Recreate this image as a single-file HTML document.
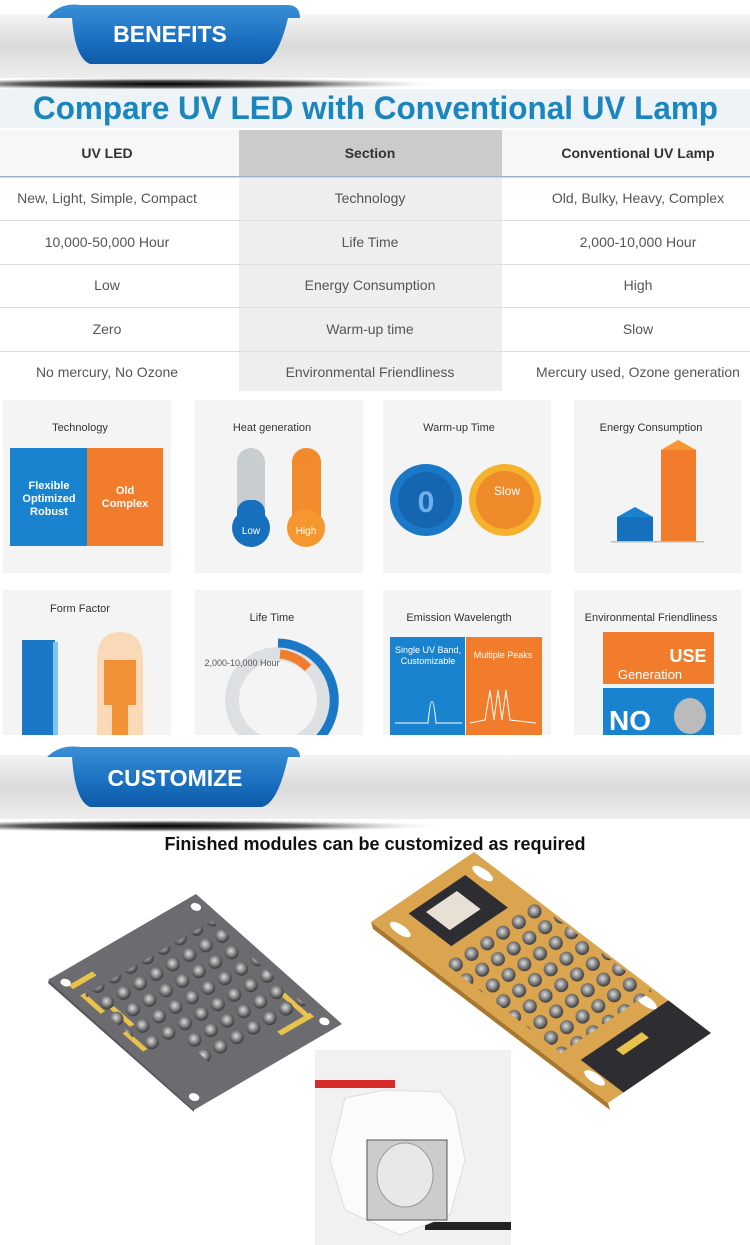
<!DOCTYPE html>
<html><head><meta charset="utf-8"><style>
body{margin:0;width:750px;height:1245px;overflow:hidden;background:#fff;font-family:"Liberation Sans",sans-serif}
svg{display:block}
</style></head><body>
<svg width="750" height="1245" viewBox="0 0 750 1245" xmlns="http://www.w3.org/2000/svg" font-family="Liberation Sans, sans-serif">
<defs>
<linearGradient id="band" x1="0" y1="0" x2="0" y2="1"><stop offset="0" stop-color="#f4f4f4"/><stop offset="0.5" stop-color="#dadada"/><stop offset="1" stop-color="#eeeeee"/></linearGradient>
<linearGradient id="rib" x1="0" y1="0" x2="0" y2="1"><stop offset="0" stop-color="#3a8fd8"/><stop offset="0.6" stop-color="#1a6fc0"/><stop offset="1" stop-color="#0d5aa8"/></linearGradient>
<radialGradient id="shad" cx="0.45" cy="0.5" r="0.55"><stop offset="0" stop-color="#000"/><stop offset="0.5" stop-color="#555"/><stop offset="1" stop-color="#fff" stop-opacity="0"/></radialGradient>
<radialGradient id="hole" cx="0.5" cy="0.4" r="0.6"><stop offset="0" stop-color="#ddd"/><stop offset="0.6" stop-color="#777"/><stop offset="1" stop-color="#333"/></radialGradient>
<pattern id="gh" width="19" height="19" patternUnits="userSpaceOnUse" patternTransform="rotate(-30)"><circle cx="9.5" cy="9.5" r="7" fill="url(#hole)"/></pattern>
<pattern id="oh" width="19" height="19" patternUnits="userSpaceOnUse" patternTransform="rotate(-34)"><circle cx="9.5" cy="9.5" r="7" fill="url(#hole)"/></pattern>
<clipPath id="c1"><rect x="195" y="590" width="168" height="145"/></clipPath>
</defs>
<!-- banner 1 -->
<rect x="0" y="14" width="750" height="64" fill="url(#band)"/>
<ellipse cx="190" cy="84" rx="260" ry="6" fill="url(#shad)"/>
<path d="M47,18 Q60,2 80,5 L285,5 Q300,4 300,18 L288,18 Q278,60 262,64 L90,64 Q75,58 72,18 Z" fill="url(#rib)"/>
<text x="170" y="42" font-size="23" font-weight="bold" fill="#fff" text-anchor="middle">BENEFITS</text>
<rect x="0" y="89" width="750" height="39" fill="#eef3f7"/>
<text x="33" y="119" font-size="32" font-weight="bold" fill="#1b86bd" textLength="685" lengthAdjust="spacingAndGlyphs">Compare UV LED with Conventional UV Lamp</text>
<!-- table -->
<rect x="0" y="130" width="750" height="46" fill="#f7f7f7"/>
<rect x="239" y="130" width="263" height="46" fill="#cbcbcb"/>
<rect x="0" y="176" width="750" height="1.5" fill="#9ab0cc"/>
<rect x="239" y="178" width="263" height="213" fill="#eeeeee"/>
<g fill="#ddd"><rect x="0" y="220" width="750" height="1"/><rect x="0" y="264" width="750" height="1"/><rect x="0" y="307" width="750" height="1"/><rect x="0" y="351" width="750" height="1"/></g>
<g font-size="14" font-weight="bold" fill="#333" text-anchor="middle">
<text x="107" y="158">UV LED</text><text x="370" y="158">Section</text><text x="638" y="158">Conventional UV Lamp</text></g>
<g font-size="14" fill="#555" text-anchor="middle">
<text x="107" y="203">New, Light, Simple, Compact</text><text x="370" y="203">Technology</text><text x="638" y="203">Old, Bulky, Heavy, Complex</text>
<text x="107" y="247">10,000-50,000 Hour</text><text x="370" y="247">Life Time</text><text x="638" y="247">2,000-10,000 Hour</text>
<text x="107" y="290">Low</text><text x="370" y="290">Energy Consumption</text><text x="638" y="290">High</text>
<text x="107" y="334">Zero</text><text x="370" y="334">Warm-up time</text><text x="638" y="334">Slow</text>
<text x="107" y="377">No mercury, No Ozone</text><text x="370" y="377">Environmental Friendliness</text><text x="638" y="377">Mercury used, Ozone generation</text></g>
<!-- panels -->
<g fill="#f4f4f4">
<rect x="3" y="400" width="168" height="173"/><rect x="195" y="400" width="168" height="173"/><rect x="383" y="400" width="168" height="173"/><rect x="574" y="400" width="167" height="173"/>
<rect x="3" y="590" width="168" height="145"/><rect x="195" y="590" width="168" height="145"/><rect x="383" y="590" width="168" height="145"/><rect x="574" y="590" width="167" height="145"/></g>
<g font-size="11" fill="#333" text-anchor="middle">
<text x="80" y="431">Technology</text><text x="272" y="431">Heat generation</text><text x="459" y="431">Warm-up Time</text><text x="651" y="431">Energy Consumption</text>
<text x="80" y="612">Form Factor</text><text x="272" y="621">Life Time</text><text x="459" y="621">Emission Wavelength</text><text x="651" y="621">Environmental Friendliness</text></g>
<!-- technology -->
<rect x="10" y="448" width="77" height="98" fill="#1a83d0"/><rect x="87" y="448" width="76" height="98" fill="#f07c2c"/>
<g font-size="11" font-weight="bold" fill="#fff" text-anchor="middle"><text x="49" y="489">Flexible</text><text x="49" y="502">Optimized</text><text x="49" y="515">Robust</text><text x="125" y="494">Old</text><text x="125" y="507">Complex</text></g>
<!-- heat -->
<rect x="237" y="448" width="28" height="90" rx="14" fill="#c8cdd0"/><circle cx="251" cy="528" r="19" fill="#1670bd"/><rect x="237" y="500" width="28" height="30" rx="12" fill="#1670bd"/>
<rect x="292" y="448" width="29" height="90" rx="14" fill="#f28a2e"/><circle cx="306" cy="528" r="19" fill="#f5962e"/>
<text x="251" y="534" font-size="10" fill="#fff" text-anchor="middle">Low</text><text x="306" y="534" font-size="10" fill="#fff" text-anchor="middle">High</text>
<!-- warmup -->
<circle cx="426" cy="500" r="36" fill="#1a78c6"/><circle cx="426" cy="500" r="28" fill="#1565b0"/><text x="426" y="512" font-size="30" font-weight="bold" fill="#6fb0e8" text-anchor="middle">0</text>
<circle cx="505" cy="500" r="36" fill="#f5b22c"/><circle cx="505" cy="500" r="29" fill="#ef8a2a"/><text x="507" y="495" font-size="12" fill="#fff" text-anchor="middle">Slow</text>
<!-- energy -->
<rect x="617" y="517" width="36" height="24" fill="#1670bd"/><polygon points="617,517 635,507 653,517" fill="#1a83d0"/>
<rect x="661" y="450" width="35" height="91" fill="#f07c2c"/><polygon points="661,450 678,440 696,450" fill="#f5962e"/>
<rect x="611" y="541" width="93" height="1.5" fill="#bbb"/>
<!-- form factor -->
<rect x="22" y="640" width="33" height="95" fill="#1a78c6"/><rect x="53" y="642" width="5" height="93" fill="#7ec6f0"/>
<path d="M97,735 L97,660 Q97,632 120,632 Q143,632 143,660 L143,735 Z" fill="#f9d9b8"/><rect x="104" y="660" width="32" height="45" fill="#f29236"/><rect x="112" y="705" width="16" height="30" fill="#f29236"/>
<!-- life time -->
<g clip-path="url(#c1)">
<circle cx="278" cy="700" r="46" fill="none" stroke="#dde0e3" stroke-width="14"/><path d="M278,643 A57,57 0 1,1 241,744" fill="none" stroke="#1a78c6" stroke-width="9"/><path d="M280,654 A45,45 0 0,1 308,668" fill="none" stroke="#f07c2c" stroke-width="9"/>
</g>
<text x="242" y="666" font-size="9" fill="#555" text-anchor="middle">2,000-10,000 Hour</text>
<!-- emission -->
<rect x="390" y="637" width="75" height="98" fill="#1a83d0"/><rect x="466" y="637" width="76" height="98" fill="#f07c2c"/>
<g font-size="9" fill="#fff" text-anchor="middle"><text x="428" y="653">Single UV Band,</text><text x="428" y="664">Customizable</text><text x="503" y="658">Multiple Peaks</text></g>
<path d="M395,723 L428,723 Q432,680 436,723 L462,723" stroke="#fff" fill="none"/><path d="M470,723 L485,720 L490,690 L494,720 L498,690 L502,720 L506,690 L510,720 L536,723" stroke="#fff" fill="none"/>
<!-- env -->
<rect x="603" y="632" width="111" height="52" fill="#f07c2c"/><rect x="603" y="688" width="111" height="47" fill="#1a83d0"/>
<text x="650" y="679" font-size="13" fill="#fff" text-anchor="middle">Generation</text><text x="688" y="662" font-size="18" font-weight="bold" fill="#fff" text-anchor="middle">USE</text>
<text x="630" y="730" font-size="28" font-weight="bold" fill="#fff" text-anchor="middle">NO</text><ellipse cx="690" cy="716" rx="16" ry="18" fill="#bbb"/>
<!-- banner 2 -->
<rect x="0" y="755" width="750" height="64" fill="url(#band)"/>
<ellipse cx="190" cy="826" rx="260" ry="6" fill="url(#shad)"/>
<path d="M47,757 Q60,744 80,747 L285,747 Q300,746 300,757 L288,757 Q278,803 262,807 L90,807 Q75,801 72,757 Z" fill="url(#rib)"/>
<text x="175" y="786" font-size="23" font-weight="bold" fill="#fff" text-anchor="middle">CUSTOMIZE</text>
<text x="375" y="850" font-size="18" font-weight="bold" fill="#111" text-anchor="middle">Finished modules can be customized as required</text>
<!-- gray board -->
<polygon points="48,983 194,1112 194,1104 50,978" fill="#55555a"/>
<g transform="matrix(1.48,-0.86,1.46,1.30,48,980)">
<rect x="0" y="0" width="100" height="100" fill="#6b6b70"/>
<rect x="6" y="8" width="16" height="3" fill="#e8c24a"/><rect x="6" y="16" width="3" height="14" fill="#e8c24a"/>
<rect x="12" y="30" width="3" height="14" fill="#e8c24a"/><rect x="6" y="45" width="3" height="14" fill="#e8c24a"/>
<rect x="70" y="86" width="22" height="3" fill="#e8c24a"/><rect x="88" y="70" width="3" height="18" fill="#e8c24a"/>
<circle cx="6" cy="6" r="2.5" fill="#fff"/><circle cx="94" cy="6" r="2.5" fill="#fff"/><circle cx="6" cy="94" r="2.5" fill="#fff"/><circle cx="94" cy="94" r="2.5" fill="#fff"/>
</g>
<polygon points="114,978 212,921 308,1007 211,1064" fill="url(#gh)"/>
<polygon points="85,995 114,978 178,1035 149,1052" fill="url(#gh)"/>
<!-- gold board -->
<polygon points="371,922 608,1103 610,1110 373,929" fill="#a9772e"/>
<g transform="matrix(1.03,-0.70,2.37,1.81,371,922)">
<rect x="0" y="0" width="100" height="100" fill="#dba550"/>
<rect x="25" y="5" width="55" height="18" fill="#2e2e32"/><rect x="35" y="8" width="30" height="10" fill="#e8e0d4"/>
<rect x="15" y="82" width="85" height="18" fill="#2e2e32"/><rect x="40" y="86" width="25" height="3" fill="#e8c24a"/>
<circle cx="10" cy="8" r="4" fill="#fff"/><circle cx="90" cy="8" r="4" fill="#fff"/><circle cx="10" cy="90" r="4" fill="#fff"/><circle cx="88" cy="78" r="4" fill="#fff"/>
</g>
<polygon points="443,962 534,901 652,991 561,1053" fill="url(#oh)"/>
<!-- white star board -->
<rect x="315" y="1050" width="196" height="195" fill="#f1f1f1"/>
<rect x="315" y="1080" width="80" height="8" fill="#d92b2b"/><rect x="425" y="1222" width="86" height="8" fill="#222"/>
<polygon points="345,1098 385,1090 440,1092 455,1110 465,1160 450,1215 400,1235 345,1210 330,1160" fill="#fbfbfb" stroke="#ddd"/>
<rect x="367" y="1140" width="80" height="80" fill="#ccc" stroke="#555"/><ellipse cx="405" cy="1175" rx="28" ry="32" fill="#e8e8e8" stroke="#999"/>
</svg>
</body></html>
